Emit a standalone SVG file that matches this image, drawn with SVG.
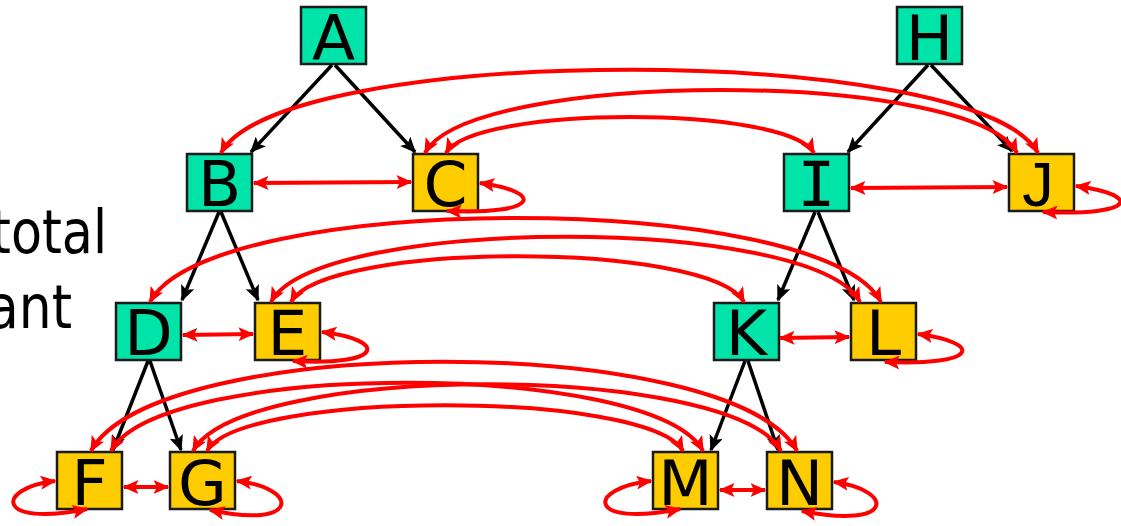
<svg xmlns="http://www.w3.org/2000/svg" width="1121" height="526" viewBox="0 0 1121 526">
  <defs>
    <marker id="head-red" markerUnits="userSpaceOnUse" markerWidth="17" markerHeight="14" refX="14.5" refY="7" orient="auto-start-reverse">
      <path d="M0,0 L16,7 L0,14 L3.5,7 z" fill="#ff0000"/>
    </marker>
    <marker id="head-blk" markerUnits="userSpaceOnUse" markerWidth="17" markerHeight="14" refX="14.5" refY="7" orient="auto">
      <path d="M0,0 L16,7 L0,14 L3.5,7 z" fill="#000000"/>
    </marker>
  </defs>
  <style>
    .box { stroke: #1a1a1a; stroke-width: 2.5; }
    .root { fill: #00e3a9; }
    .leaf { fill: #ffcc00; }
    .lbl { font-family: "DejaVu Sans", sans-serif; font-size: 63px; fill: #000; text-anchor: middle; }
    .serif-i { font-family: "DejaVu Sans Mono", monospace; }
    .flat-j { font-family: "Liberation Sans", sans-serif; }
    .side { font-family: "DejaVu Sans", sans-serif; font-size: 61px; fill: #000; }
    .tree { fill: none; stroke: #000; stroke-width: 3.5; marker-end: url(#head-blk); }
    .rel { fill: none; stroke: #ff0000; stroke-width: 4; marker-start: url(#head-red); marker-end: url(#head-red); }
  </style>

  <!-- clipped slide text on the left -->
  <text class="side" x="-9" y="252.7" textLength="116" lengthAdjust="spacingAndGlyphs">total</text>
  <text class="side" x="-13" y="328.3" textLength="85" lengthAdjust="spacingAndGlyphs">ant</text>

  <!-- nodes -->
  <g id="node-A"><rect class="box root" x="301" y="7" width="65" height="57"/><text class="lbl" x="333.5" y="60">A</text></g>
  <g id="node-B"><rect class="box root" x="187" y="154" width="65" height="57"/><text class="lbl" x="219.5" y="206">B</text></g>
  <g id="node-C"><rect class="box leaf" x="413" y="154" width="65" height="57"/><text class="lbl" x="445.5" y="206">C</text></g>
  <g id="node-D"><rect class="box root" x="116" y="303" width="65" height="57"/><text class="lbl" x="148.5" y="355">D</text></g>
  <g id="node-E"><rect class="box leaf" x="255" y="303" width="65" height="57"/><text class="lbl" x="287.5" y="355">E</text></g>
  <g id="node-F"><rect class="box leaf" x="57" y="452" width="65" height="57"/><text class="lbl" x="89.5" y="505">F</text></g>
  <g id="node-G"><rect class="box leaf" x="170" y="452" width="65" height="57"/><text class="lbl" x="202.5" y="505">G</text></g>
  <g id="node-H"><rect class="box root" x="897" y="7" width="65" height="57"/><text class="lbl" x="929.5" y="60">H</text></g>
  <g id="node-I"><rect class="box root" x="784" y="154" width="65" height="57"/><text class="lbl serif-i" x="816.5" y="206">I</text></g>
  <g id="node-J"><rect class="box leaf" x="1009" y="154" width="65" height="57"/><text class="lbl flat-j" x="1038" y="206">J</text></g>
  <g id="node-K"><rect class="box root" x="714" y="303" width="65" height="57"/><text class="lbl" x="746.5" y="355">K</text></g>
  <g id="node-L"><rect class="box leaf" x="851" y="303" width="65" height="57"/><text class="lbl" x="883.5" y="355">L</text></g>
  <g id="node-M"><rect class="box leaf" x="653" y="452" width="65" height="57"/><text class="lbl" x="685.5" y="505">M</text></g>
  <g id="node-N"><rect class="box leaf" x="767" y="452" width="65" height="57"/><text class="lbl" x="799.5" y="505">N</text></g>

  <g id="connectors">
    <!-- parent to child edges -->
    <path class="tree" d="M332,65 L251,152"/>
    <path class="tree" d="M335,65 L415,152"/>
    <path class="tree" d="M928,65 L848,152"/>
    <path class="tree" d="M931,65 L1012,151"/>
    <path class="tree" d="M219,212 L182,300"/>
    <path class="tree" d="M221,212 L258,300"/>
    <path class="tree" d="M815,212 L778,300"/>
    <path class="tree" d="M818,212 L854,300"/>
    <path class="tree" d="M148,361 L113,450"/>
    <path class="tree" d="M150,361 L181,450"/>
    <path class="tree" d="M745,361 L711,450"/>
    <path class="tree" d="M748,361 L778,450"/>

    <!-- sibling links -->
    <path class="rel" d="M254,183 L411,182"/>
    <path class="rel" d="M851,188 L1007,187"/>
    <path class="rel" d="M183,335 L253,334"/>
    <path class="rel" d="M780,338 L849,337"/>
    <path class="rel" d="M124,487 L168,487"/>
    <path class="rel" d="M720,490 L765,490"/>

    <!-- self loops -->
    <path class="rel" d="M480,183 C545,192 540,215 447,211"/>
    <path class="rel" d="M1076,186 C1142,195 1137,216 1043,212"/>
    <path class="rel" d="M322,332 C388,340 385,366 293,361"/>
    <path class="rel" d="M918,334 C984,343 979,366 885,362"/>
    <path class="rel" d="M55,481 C-5,488 -5,528 87,509"/>
    <path class="rel" d="M237,481 C300,488 300,530 210,510"/>
    <path class="rel" d="M651,481 C586,488 586,528 680,509"/>
    <path class="rel" d="M834,482 C895,490 895,530 802,511"/>

    <!-- long links between the two trees -->
    <path class="rel" d="M221,153 C281,42 978,42 1038,153"/>
    <path class="rel" d="M425,153 C470,69 972,69 1017,153"/>
    <path class="rel" d="M446,153 C474,105 786,105 814,153"/>
    <path class="rel" d="M150,302 C210,190 821,190 881,302"/>
    <path class="rel" d="M271,302 C318,215 813,215 860,302"/>
    <path class="rel" d="M291,302 C325,241 710,241 744,302"/>
    <path class="rel" d="M91,451 C156,332 732,332 797,451"/>
    <path class="rel" d="M111,451 C161,360 653,360 703,451"/>
    <path class="rel" d="M193,451 C242,362 732,362 781,451"/>
    <path class="rel" d="M207,451 C241,390 649,390 683,451"/>
  </g>
</svg>
